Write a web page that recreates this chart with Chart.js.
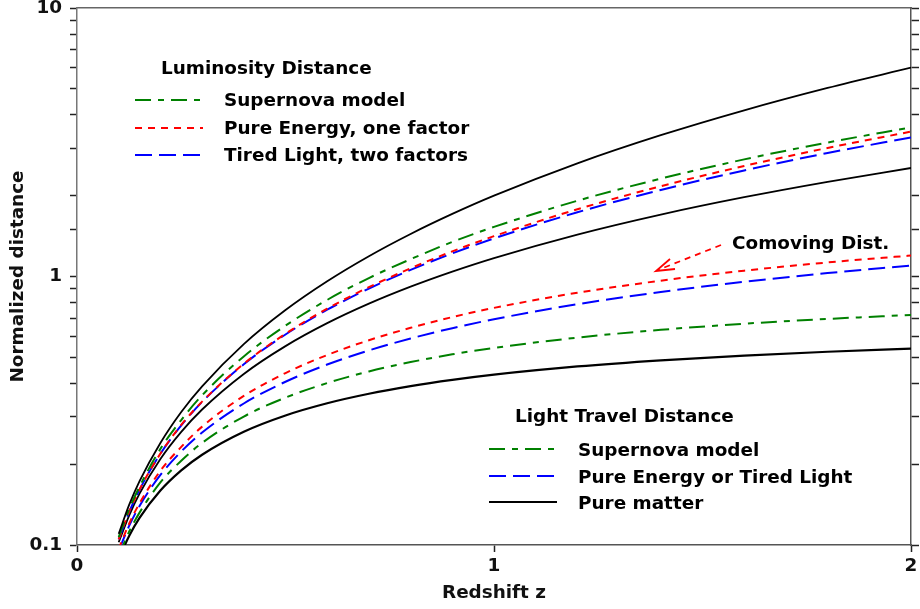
<!DOCTYPE html>
<html>
<head>
<meta charset="utf-8">
<script src="https://cdn.jsdelivr.net/npm/chart.js@4.4.1/dist/chart.umd.min.js"></script>
<style>
  html, body { margin: 0; padding: 0; background: #ffffff; }
  #wrap { width: 920px; height: 609px; position: relative; }
</style>
</head>
<body>
<div id="wrap"><canvas id="c" width="920" height="609"></canvas></div>
<script>
// ---- data ----
const redshift = [0.1, 0.125, 0.15, 0.2, 0.25, 0.3, 0.4, 0.5, 0.6, 0.7, 0.8, 0.9, 1.0, 1.2, 1.4, 1.6, 1.8, 2.0];

// Luminosity distances
const lumBlackUpper   = [0.110, 0.141, 0.173, 0.240, 0.313, 0.390, 0.560, 0.750, 0.960, 1.19, 1.44, 1.71, 2.00, 2.64, 3.36, 4.16, 5.04, 6.00];
const lumSupernova    = [0.107, 0.136, 0.165, 0.228, 0.292, 0.361, 0.504, 0.656, 0.818, 0.987, 1.16, 1.345, 1.53, 1.915, 2.315, 2.73, 3.155, 3.59];
const lumPureEnergy   = [0.105, 0.133, 0.161, 0.219, 0.280, 0.342, 0.473, 0.612, 0.759, 0.913, 1.073, 1.241, 1.414, 1.780, 2.169, 2.580, 3.012, 3.464];
const lumTiredLight   = [0.105, 0.1325, 0.1607, 0.2188, 0.2789, 0.3411, 0.4711, 0.6082, 0.752, 0.902, 1.058, 1.2195, 1.386, 1.735, 2.101, 2.484, 2.883, 3.296];
const lumBlackLower   = [0.1024, 0.1287, 0.1553, 0.2091, 0.2639, 0.3196, 0.4336, 0.5505, 0.6702, 0.7923, 0.9167, 1.0432, 1.1716, 1.4335, 1.7016, 1.9751, 2.2534, 2.536];

// Comoving distance
const comovingPureEnergy = [0.0967, 0.120, 0.143, 0.189, 0.232, 0.276, 0.359, 0.437, 0.510, 0.579, 0.644, 0.706, 0.764, 0.870, 0.965, 1.051, 1.128, 1.197];

// Light travel distances
const travelEnergyTired  = [0.0953, 0.1178, 0.1398, 0.1823, 0.2231, 0.2624, 0.3365, 0.4055, 0.470, 0.5306, 0.5878, 0.6419, 0.6931, 0.7885, 0.8755, 0.9555, 1.0296, 1.0986];
const travelSupernova    = [0.0915, 0.112, 0.132, 0.171, 0.206, 0.240, 0.301, 0.354, 0.401, 0.443, 0.480, 0.513, 0.542, 0.592, 0.633, 0.667, 0.695, 0.719];
const travelPureMatter   = [0.0888, 0.1080, 0.1261, 0.1595, 0.1896, 0.2169, 0.2642, 0.3038, 0.3373, 0.3659, 0.3906, 0.4121, 0.4310, 0.4624, 0.4874, 0.5076, 0.5244, 0.5384];

// Text
const xTickValues = [0, 1, 2];
const yTickLabels = ['0.1', '1', '10'];
const xTitle = 'Redshift z';
const yTitle = 'Normalized distance';
const lumLegendTitle = 'Luminosity Distance';
const lumLegendLabels = ['Supernova model', 'Pure Energy, one factor', 'Tired Light, two factors'];
const travelLegendTitle = 'Light Travel Distance';
const travelLegendLabels = ['Supernova model', 'Pure Energy or Tired Light', 'Pure matter'];
const comovingLabel = 'Comoving Dist.';

// ---- styles ----
const GREEN = '#008000', RED = '#ff0000', BLUE = '#0000ff', BLACK = '#000000';
const DASH_GREEN = [16, 7, 6, 7];
const DASH_RED = [7, 6];
const DASH_BLUE = [17, 7];
const FONT = '"DejaVu Sans", "Liberation Sans", sans-serif';
const FSIZE = 18.4;

function pts(ys) { return redshift.map((z, i) => ({ x: z, y: ys[i] })); }
function ds(label, ys, color, dash, width) {
  return {
    label, data: pts(ys), borderColor: color, backgroundColor: color,
    borderDash: dash, borderWidth: width || 2, pointRadius: 0, fill: false,
    cubicInterpolationMode: 'monotone', borderCapStyle: 'butt'
  };
}

const datasets = [
  ds('lumBlackUpper', lumBlackUpper, BLACK, [], 1.8),
  ds('lumSupernova', lumSupernova, GREEN, DASH_GREEN),
  ds('lumPureEnergy', lumPureEnergy, RED, DASH_RED),
  ds('lumTiredLight', lumTiredLight, BLUE, DASH_BLUE),
  ds('lumBlackLower', lumBlackLower, BLACK, [], 1.8),
  ds('comovingPureEnergy', comovingPureEnergy, RED, DASH_RED),
  ds('travelEnergyTired', travelEnergyTired, BLUE, DASH_BLUE),
  ds('travelSupernova', travelSupernova, GREEN, DASH_GREEN),
  ds('travelPureMatter', travelPureMatter, BLACK, [], 2.2)
];

function isDecade(v) {
  const l = Math.log10(v);
  return Math.abs(l - Math.round(l)) < 1e-6;
}

const annotations = {
  id: 'annotations',
  afterDraw(chart) {
    const ctx = chart.ctx;
    ctx.save();
    ctx.font = 'bold ' + FSIZE + 'px ' + FONT;
    ctx.fillStyle = '#000';
    ctx.textBaseline = 'middle';
    ctx.textAlign = 'left';

    function sample(x1, x2, y, color, dash, w) {
      ctx.save();
      ctx.strokeStyle = color;
      ctx.lineWidth = w || 2;
      ctx.setLineDash(dash);
      ctx.beginPath();
      ctx.moveTo(x1, y);
      ctx.lineTo(x2, y);
      ctx.stroke();
      ctx.restore();
    }

    // Luminosity legend
    ctx.fillText(lumLegendTitle, 161, 69);
    const lumStyles = [[GREEN, DASH_GREEN], [RED, DASH_RED], [BLUE, DASH_BLUE]];
    const lumRows = [100, 128, 155];
    lumLegendLabels.forEach((t, i) => {
      sample(135, 203, lumRows[i], lumStyles[i][0], lumStyles[i][1]);
      ctx.fillText(t, 224, lumRows[i] + 1);
    });

    // Light travel legend
    ctx.fillText(travelLegendTitle, 515, 417);
    const trStyles = [[GREEN, DASH_GREEN], [BLUE, DASH_BLUE], [BLACK, []]];
    const trRows = [449, 476, 502];
    travelLegendLabels.forEach((t, i) => {
      sample(489, 557, trRows[i], trStyles[i][0], trStyles[i][1]);
      ctx.fillText(t, 578, trRows[i] + 2);
    });

    // Comoving annotation
    ctx.fillText(comovingLabel, 732, 244);
    ctx.save();
    ctx.strokeStyle = RED;
    ctx.lineWidth = 1.8;
    ctx.setLineDash([6, 5]);
    ctx.beginPath();
    ctx.moveTo(721, 245);
    ctx.lineTo(658, 270);
    ctx.stroke();
    ctx.setLineDash([]);
    ctx.beginPath();
    ctx.moveTo(670, 259);
    ctx.lineTo(656, 271);
    ctx.lineTo(675, 269);
    ctx.stroke();
    ctx.restore();

    ctx.restore();
  }
};

const tickFont = { family: FONT, size: FSIZE, weight: 'bold' };

function noPad(s) { s.paddingTop = 0; s.paddingBottom = 0; s.paddingLeft = 0; s.paddingRight = 0; }

new Chart(document.getElementById('c'), {
  type: 'line',
  data: { datasets },
  options: {
    responsive: false,
    animation: false,
    events: [],
    layout: { padding: 0 },
    plugins: { legend: { display: false }, tooltip: { enabled: false } },
    scales: {
      x: {
        type: 'linear', position: 'bottom', min: 0, max: 2,
        afterBuildTicks: (s) => { s.ticks = xTickValues.map(v => ({ value: v })); },
        ticks: { font: tickFont, color: '#111', padding: 3, maxRotation: 0, autoSkip: false,
                 callback: (v) => String(v) },
        grid: { drawOnChartArea: false, tickLength: 7, tickColor: '#222', tickWidth: 1.5 },
        border: { display: true, color: '#555', width: 1.5 },
        title: { display: true, text: xTitle, font: tickFont, color: '#111', padding: { top: 0, bottom: 5 } },
        afterFit: (s) => { s.height = 64; noPad(s); }
      },
      xTop: {
        type: 'linear', position: 'top', min: 0, max: 2,
        ticks: { display: false },
        grid: { display: false, drawTicks: false },
        border: { display: true, color: '#666', width: 1.5 },
        afterFit: (s) => { s.height = 8; noPad(s); }
      },
      y: {
        type: 'logarithmic', position: 'left', min: 0.1, max: 10,
        ticks: { font: tickFont, color: '#111', padding: 8, autoSkip: false,
                 callback: (v) => isDecade(v) ? yTickLabels[Math.round(Math.log10(v)) + 1] : '' },
        grid: { drawOnChartArea: false, tickLength: 7, tickColor: '#222', tickWidth: 1.5 },
        border: { display: true, color: '#777', width: 1.5 },
        title: { display: true, text: yTitle, font: tickFont, color: '#111', padding: { top: 7, bottom: 0 } },
        afterFit: (s) => { s.width = 77; noPad(s); }
      },
      yRight: {
        type: 'logarithmic', position: 'right', min: 0.1, max: 10,
        ticks: { autoSkip: false, callback: () => '' },
        grid: { drawOnChartArea: false, tickLength: 8, tickColor: '#222', tickWidth: 1.5 },
        border: { display: true, color: '#555', width: 1.5 },
        afterFit: (s) => { s.width = 9; noPad(s); }
      }
    }
  },
  plugins: [annotations]
});
</script>
</body>
</html>
